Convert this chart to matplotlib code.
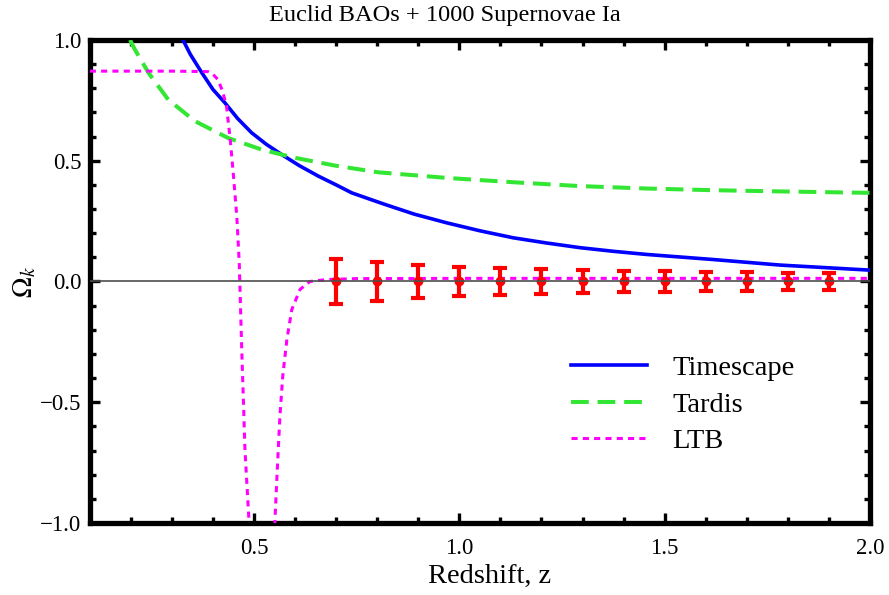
import numpy as np
import matplotlib
matplotlib.use("Agg")
import matplotlib.pyplot as plt
from matplotlib.ticker import MultipleLocator

# ---- data ----
timescape_z = [0.327, 0.345, 0.373, 0.40, 0.429, 0.46, 0.494, 0.53, 0.567, 0.61, 0.657, 0.70, 0.738, 0.78,
               0.819, 0.89, 0.969, 1.05, 1.131, 1.21, 1.294, 1.375, 1.456, 1.618, 1.781, 2.0]
timescape_om = [1.0, 0.94, 0.864, 0.795, 0.74, 0.675, 0.616, 0.568, 0.526, 0.48, 0.436, 0.40, 0.367, 0.342,
                0.319, 0.279, 0.243, 0.21, 0.181, 0.16, 0.14, 0.125, 0.112, 0.091, 0.068, 0.047]

tardis_z = [0.198, 0.21, 0.243, 0.291, 0.356, 0.437, 0.519, 0.6, 0.697, 0.803, 0.969, 1.131, 1.294,
            1.456, 1.618, 1.781, 2.0]
tardis_om = [1.0, 0.96, 0.864, 0.753, 0.664, 0.594, 0.546, 0.512, 0.48, 0.452, 0.429, 0.411, 0.395,
             0.385, 0.378, 0.373, 0.367]

ltb_z = [0.1, 0.2, 0.3, 0.388, 0.40, 0.412, 0.423, 0.433, 0.442, 0.45, 0.458, 0.464, 0.470, 0.474,
         0.478, 0.483, 0.488, 0.492, np.nan,
         0.548, 0.551, 0.557, 0.563, 0.570, 0.580, 0.592, 0.612, 0.636, 0.677, 0.75, 1.0, 1.5, 2.0]
ltb_om = [0.871, 0.871, 0.871, 0.869, 0.858, 0.836, 0.79, 0.726, 0.588, 0.436, 0.27, 0.077, -0.28, -0.49,
          -0.70, -0.85, -1.0, -1.2, np.nan,
          -1.2, -0.985, -0.765, -0.558, -0.39, -0.24, -0.116, -0.033, 0.0, 0.008, 0.012, 0.013, 0.013, 0.013]

euclid_z = [0.7, 0.8, 0.9, 1.0, 1.1, 1.2, 1.3, 1.4, 1.5, 1.6, 1.7, 1.8, 1.9]
euclid_om = [0.0] * 13
euclid_err = [0.095, 0.079, 0.070, 0.062, 0.056, 0.051, 0.048, 0.043, 0.042, 0.039, 0.039, 0.037, 0.036]

plt.rcParams['font.family'] = ['Liberation Serif', 'DejaVu Serif']
plt.rcParams['mathtext.fontset'] = 'stix'

fig = plt.figure(figsize=(8.89, 5.95), dpi=100)
ax = fig.add_axes([0.101, 0.121, 0.8776, 0.8118])

ax.plot(timescape_z, timescape_om, color='#0000FF', lw=2.6, label='Timescape', zorder=3)
ax.plot(tardis_z, tardis_om, color='#33E633', lw=2.9, dashes=(4.4, 2.2), label='Tardis', zorder=3)
ax.plot(ltb_z, ltb_om, color='#FF00FF', lw=2.2, dashes=(2.0, 1.7), label='LTB', zorder=3)

ax.errorbar(euclid_z, euclid_om, yerr=euclid_err, fmt='o', color='#FF0000', ms=6,
            elinewidth=3.0, capsize=4.8, capthick=3.0, zorder=4)
ax.axhline(0, color='#4d4d4d', lw=1.2, zorder=5)

ax.set_xlim(0.1, 2.0)
ax.set_ylim(-1.0, 1.0)
ax.xaxis.set_minor_locator(MultipleLocator(0.1))
ax.yaxis.set_minor_locator(MultipleLocator(0.1))
ax.set_xticks([0.5, 1.0, 1.5, 2.0])
ax.set_xticklabels(['0.5', '1.0', '1.5', '2.0'])
ax.set_yticks([-1.0, -0.5, 0.0, 0.5, 1.0])
ax.set_yticklabels(['\u22121.0', '\u22120.5', '0.0', '0.5', '1.0'])

for s in ax.spines.values():
    s.set_linewidth(3.8)
    s.set_color('black')
ax.tick_params(which='both', direction='in', top=True, right=True, color='black')
ax.tick_params(axis='x', which='major', length=7, width=2.4, labelsize=16.5, pad=11)
ax.tick_params(axis='y', which='major', length=7, width=2.4, labelsize=16.5, pad=6)
ax.tick_params(which='minor', length=4, width=2.4)

ax.set_xlabel('Redshift, z', fontsize=20.5)
ax.xaxis.set_label_coords(0.513, -0.085)
ax.set_ylabel(r'$\Omega_k$', fontsize=20)
ax.yaxis.set_label_coords(-0.066, 0.5)
fig.text(0.5, 1 - 16 / 595, 'Euclid BAOs + 1000 Supernovae Ia', fontsize=17.6,
         ha='center', va='center')

leg = ax.legend(loc='upper left', bbox_to_anchor=(0.617, 0.347), frameon=False, fontsize=20.5,
                handlelength=2.65, handletextpad=0.9, labelspacing=0.37, borderaxespad=0,
                borderpad=0)

fig.savefig('out.png', dpi=100)
